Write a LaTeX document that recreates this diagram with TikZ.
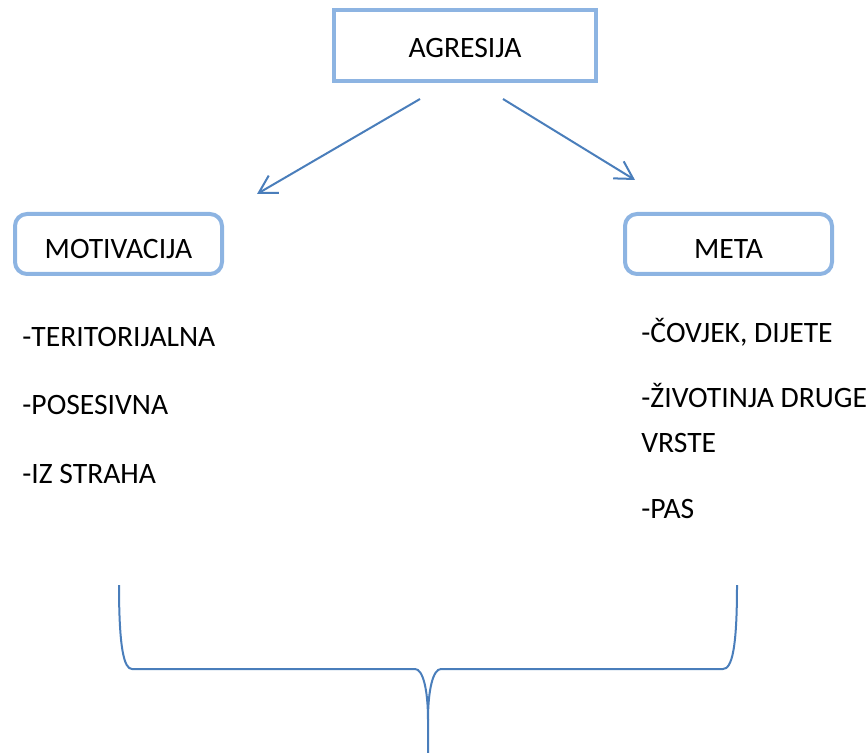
\documentclass[tikz,border=0pt]{standalone}
\usepackage{fontspec}
\setmainfont{Carlito}
\usetikzlibrary{arrows.meta}
\definecolor{boxblue}{RGB}{141,180,226}
\definecolor{lineblue}{RGB}{74,126,187}
\tikzset{
  headbox/.style={draw=boxblue, line width=2pt, minimum width=131pt, minimum height=35.5pt,
    text height=12.3pt, text depth=0pt},
  subbox/.style={draw=boxblue, line width=2pt, rounded corners=6pt, minimum width=103.5pt,
    minimum height=30pt, text height=14.3pt, text depth=0pt},
  item/.style={anchor=base west, inner sep=0pt},
  arr/.style={lineblue, line width=1pt, -{Straight Barb[length=8.7pt,width=10pt]}},
  brace/.style={lineblue, line width=1pt}
}

\begin{document}
\begin{tikzpicture}[x=0.5pt, y=-0.5pt, every node/.style={font=\fontsize{14.8}{22}\selectfont}]
    \useasboundingbox (0,0) rectangle (867,753);
    \node[headbox] (agresija) at (465,45.5) {AGRESIJA};
    \node[subbox] (motivacija) at (118.5,244) {MOTIVACIJA};
    \node[subbox] (meta) at (728.5,244) {META};

    \coordinate (agrL) at (420,99);
    \coordinate (agrR) at (503,99);
    \coordinate (motT) at (257,194);
    \coordinate (metT) at (635,180);
    \draw[arr] (agrL) -- (motT);
    \draw[arr] (agrR) -- (metT);

    % motivacija
    \node[item] (ter) at (22,347) {-TERITORIJALNA};
    \node[item] (pos) at (22,415) {-POSESIVNA};
    \node[item] (str) at (22,483) {-IZ STRAHA};

    % meta
    \node[item] (cov) at (641,343) {-ČOVJEK, DIJETE};
    \node[item] (ziv) at (641,408) {-ŽIVOTINJA DRUGE};
    \node[item] (vrs) at (641,452) {VRSTE};
    \node[item] (pas) at (641,518) {-PAS};

    % zagrada
    \draw[brace] (119,585) .. controls (119,648) and (124,669) .. (132,669)
      -- (415,669) .. controls (423,669) and (428,690) .. (428,720) -- (428,753);
    \draw[brace] (737,585) .. controls (737,648) and (732,669) .. (723,669)
      -- (441,669) .. controls (433,669) and (428,690) .. (428,720);
  \end{tikzpicture}
\end{document}
